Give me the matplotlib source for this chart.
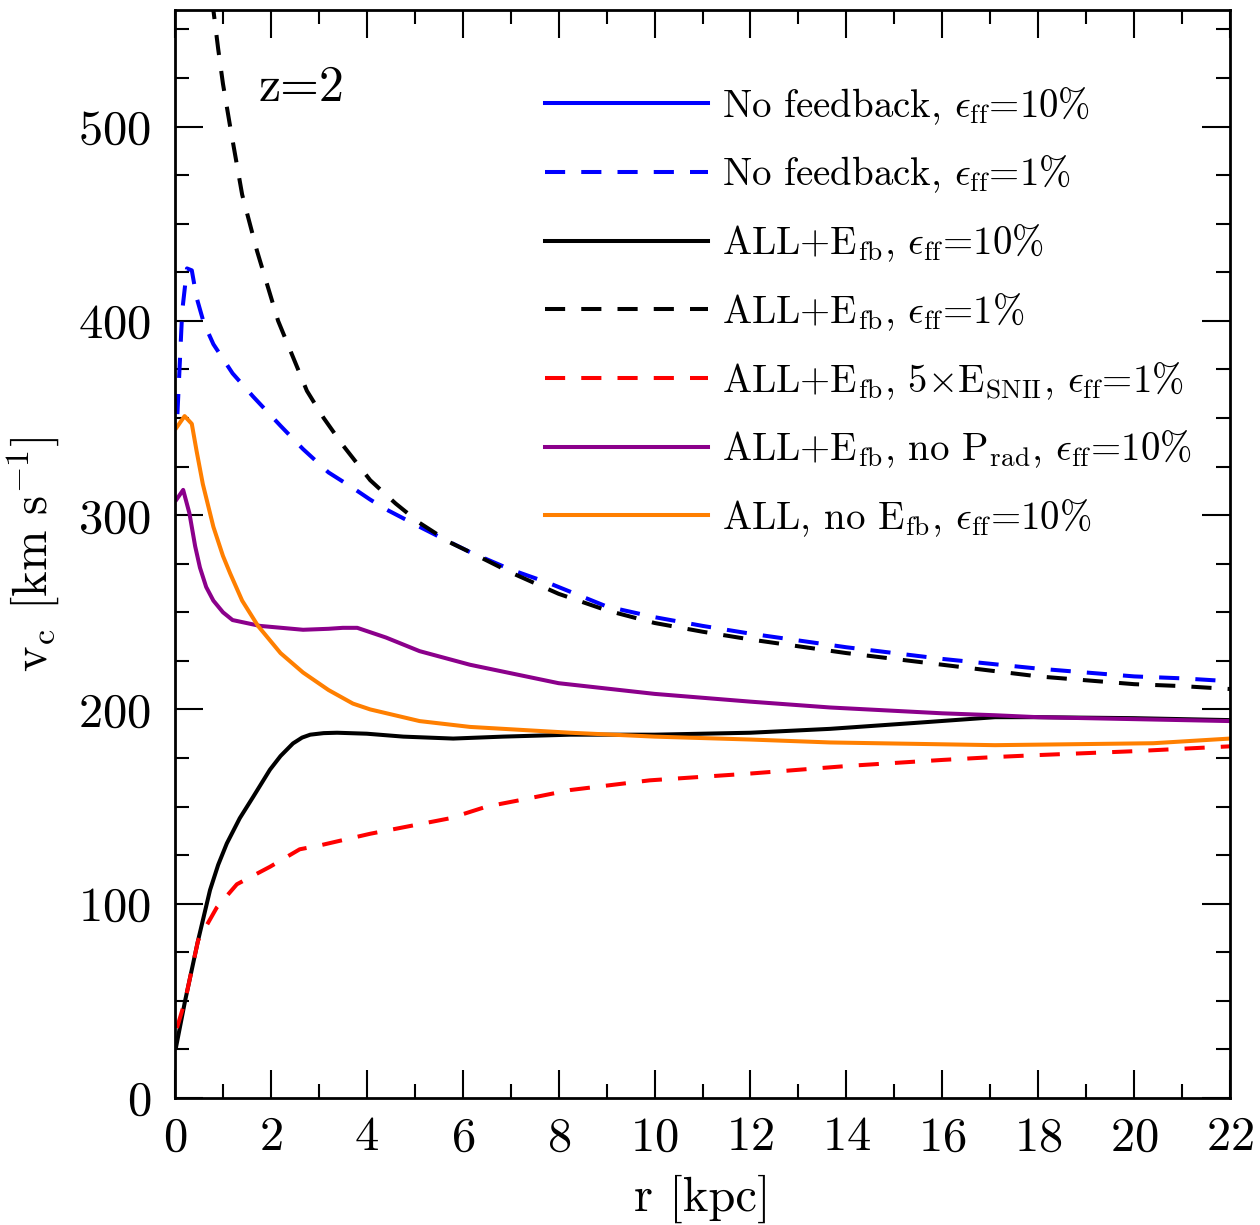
import matplotlib
matplotlib.use("Agg")
import matplotlib.pyplot as plt
from matplotlib.ticker import MultipleLocator

plt.rcParams['font.family'] = 'cmr10'
plt.rcParams['mathtext.fontset'] = 'cm'
plt.rcParams['axes.formatter.use_mathtext'] = True

# ALL+Efb, eff=1% (black dashed)
r_all1 = [0.7, 0.8, 0.9, 1.0, 1.15, 1.4, 1.71, 2.15, 2.75, 3.1, 3.5, 4.07, 4.6, 5.1,
          5.73, 6.15, 7.0, 8.0, 9.0, 10.0, 11.0, 12.0, 13.0, 14.0, 15.0, 16.0, 17.0,
          18.0, 19.0, 20.0, 21.0, 22.0]
v_all1 = [590, 560, 540, 522, 500, 465, 436, 400, 364, 350, 336, 318, 306, 296,
          286, 281, 270.5, 259.5, 251, 244.5, 240, 236, 232.5, 229, 226, 223, 220,
          217, 215, 213, 212, 210.5]

# No feedback, eff=1% (blue dashed)
r_nofb1 = [0.05, 0.15, 0.25, 0.35, 0.45, 0.6, 0.8, 1.2, 1.63, 2.2, 2.67, 3.2, 3.71,
           4.07, 4.4, 5.1, 5.74, 6.15, 7.0, 7.8, 9.0, 10.0, 11.0, 12.0, 13.0, 14.0,
           15.0, 16.0, 17.0, 18.0, 19.0, 20.0, 21.0, 22.0]
v_nofb1 = [352, 405, 427, 426, 412, 399, 388, 373, 361, 346, 334, 322, 314,
           308, 303, 294, 286, 281, 272, 265, 253, 247.5, 243, 239, 235.5, 232,
           229, 226, 223.5, 221, 219, 217, 216, 214.5]

# ALL+Efb, eff=10% (black solid)
r_all10 = [0.02, 0.21, 0.48, 0.73, 0.9, 1.08, 1.35, 1.63, 1.98, 2.2, 2.46, 2.65,
           2.82, 3.1, 3.38, 4.0, 4.76, 5.8, 6.84, 8.24, 10.0, 12.0, 13.66, 15.4,
           17.1, 18.0, 20.0, 22.0]
v_all10 = [26, 50, 81, 107, 120, 131, 144, 155, 169, 176, 182.5, 185.5,
           187, 187.8, 188, 187.5, 186, 185, 186, 187, 187, 188, 190, 193,
           196, 196, 195.5, 194.5]

# ALL+Efb, 5xESNII, eff=1% (red dashed)
r_sn5 = [0.04, 0.21, 0.48, 0.87, 1.29, 1.98, 2.6, 3.02, 4.07, 5.74, 6.5, 7.13, 8.24,
         9.9, 12.0, 14.08, 16.0, 17.1, 18.0, 20.0, 22.0]
v_sn5 = [36, 50, 81, 98, 110, 119, 128, 130, 136, 144, 150, 153, 158.5,
         163.5, 167, 171, 174, 175.5, 176.5, 178.5, 181]

# ALL+Efb, no Prad, eff=10% (purple)
r_noprad = [0.03, 0.17, 0.3, 0.42, 0.52, 0.65, 0.8, 1.0, 1.2, 1.77, 2.67, 3.2, 3.5,
            3.8, 4.4, 5.1, 6.15, 8.0, 10.0, 12.0, 13.66, 16.0, 17.1, 18.0, 20.0, 22.0]
v_noprad = [308, 313, 301, 284, 273, 263, 256, 250, 246, 243, 241, 241.5, 242,
            242, 237, 230, 223, 213.5, 208, 204, 201, 198, 197, 196, 195, 194]

# ALL, no Efb, eff=10% (orange)
r_noefb = [0.03, 0.2, 0.35, 0.45, 0.58, 0.8, 1.0, 1.15, 1.4, 1.73, 2.2, 2.67, 3.2,
           3.71, 4.07, 5.1, 6.15, 8.24, 10.0, 12.0, 13.66, 17.1, 20.4, 22.0]
v_noefb = [345, 351, 347, 333, 316, 294, 279, 270, 256, 243, 229, 219, 210,
           203, 200, 194, 191, 188, 186, 184.5, 183, 181.6, 182.6, 185]

labels = [r'No feedback, $\epsilon_{\rm ff}$=10%',
          r'No feedback, $\epsilon_{\rm ff}$=1%',
          r'ALL+E$_{\rm fb}$, $\epsilon_{\rm ff}$=10%',
          r'ALL+E$_{\rm fb}$, $\epsilon_{\rm ff}$=1%',
          r'ALL+E$_{\rm fb}$, 5$\times$E$_{\rm SNII}$, $\epsilon_{\rm ff}$=1%',
          r'ALL+E$_{\rm fb}$, no P$_{\rm rad}$, $\epsilon_{\rm ff}$=10%',
          r'ALL, no E$_{\rm fb}$, $\epsilon_{\rm ff}$=10%']

fig = plt.figure(figsize=(12.6, 12.25), dpi=100)
ax = fig.add_axes([0.1389, 0.1037, 0.8373, 0.8881])

lw = 2.9
dash = (5.0, 4.0)
ax.plot([], [], color='blue', lw=lw, label=labels[0])
ax.plot(r_nofb1, v_nofb1, color='blue', lw=lw, dashes=dash, label=labels[1])
ax.plot(r_all10, v_all10, color='black', lw=lw, label=labels[2])
ax.plot(r_all1, v_all1, color='black', lw=lw, dashes=dash, label=labels[3])
ax.plot(r_sn5, v_sn5, color='red', lw=lw, dashes=dash, label=labels[4])
ax.plot(r_noprad, v_noprad, color='#8B008B', lw=lw, label=labels[5])
ax.plot(r_noefb, v_noefb, color='#FF7F00', lw=lw, label=labels[6])

ax.set_xlim(0, 22)
ax.set_ylim(0, 560)
ax.xaxis.set_major_locator(MultipleLocator(2))
ax.xaxis.set_minor_locator(MultipleLocator(1))
ax.yaxis.set_major_locator(MultipleLocator(100))
ax.yaxis.set_minor_locator(MultipleLocator(25))
ax.tick_params(which='both', direction='in', top=True, right=True, width=1.5)
ax.tick_params(which='major', length=20, labelsize=35)
ax.tick_params(which='minor', length=10)
ax.tick_params(axis='x', pad=13)
ax.tick_params(axis='y', pad=17)
for s in ax.spines.values():
    s.set_linewidth(2)

ax.set_xlabel('r [kpc]', fontsize=35, labelpad=10)
ax.set_ylabel(r'v$_{\rm c}$ [km s$^{-1}$]', fontsize=35, labelpad=12)
ax.text(1.75, 513, 'z=2', fontsize=36)

ax.legend(loc='upper left', bbox_to_anchor=(0.3507, 0.931), frameon=False,
          fontsize=28, handlelength=4.2, handletextpad=0.35, labelspacing=0.695,
          borderaxespad=0, borderpad=0)

fig.savefig('out.png', dpi=100)
